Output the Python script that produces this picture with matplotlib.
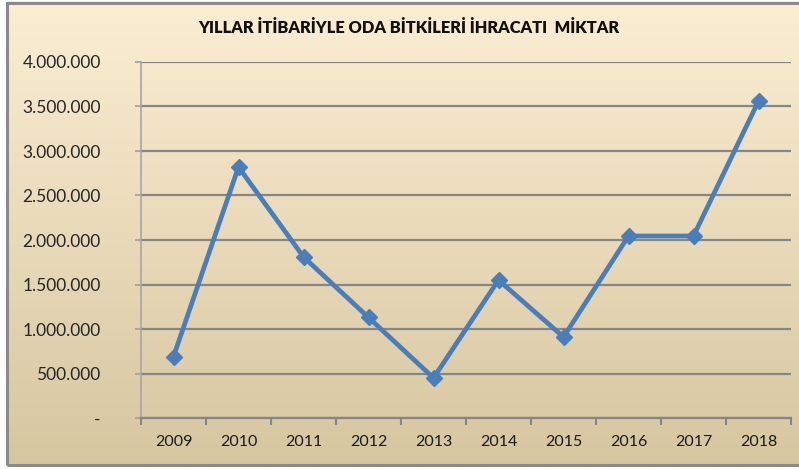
import numpy as np
import matplotlib
matplotlib.use("Agg")
import matplotlib.pyplot as plt
from matplotlib.ticker import FuncFormatter, FixedLocator

# data
years = ["2009", "2010", "2011", "2012", "2013", "2014", "2015", "2016", "2017", "2018"]
amounts = [690000, 2820000, 1810000, 1130000, 450000, 1550000, 910000, 2045000, 2045000, 3560000]
title = "YILLAR İTİBARİYLE ODA BİTKİLERİ İHRACATI  MİKTAR"

plt.rcParams['font.family'] = ['Lato', 'DejaVu Sans']

fig = plt.figure(figsize=(7.99, 4.69), dpi=100)

# gradient background inside the chart border
bg = fig.add_axes([7 / 799, 4 / 469, 1 - 7 / 799 + 0.01, 464 / 469], zorder=0)
top = np.array([252, 238, 211]) / 255
bottom = np.array([214, 198, 160]) / 255
t = np.linspace(0, 1, 256)[:, None]
grad = top * (1 - t[..., None]) + bottom * t[..., None]
bg.imshow(grad, aspect='auto', extent=[0, 1, 0, 1])
bg.set_xlim(0, 1)
bg.set_ylim(0, 1)
bg.axis('off')

# border
border = plt.Rectangle((7 / 799, 4 / 469), 1, 462 / 469, transform=fig.transFigure,
                       fill=False, edgecolor='#8a8a8a', linewidth=2.2, zorder=1)
fig.patches.append(border)

ax = fig.add_axes([141 / 799, 1 - 418 / 469, 650 / 799, 356 / 469], zorder=2)
ax.patch.set_alpha(0)

x = np.arange(len(years))
ax.plot(x, amounts, color='#4a7ebb', linewidth=3.4, marker='D', markersize=8,
        markerfacecolor='#4a7ebb', markeredgecolor='#4a7ebb', zorder=3)

ax.set_xlim(-0.5, len(years) - 0.5)
ax.set_ylim(0, 4000000)
ax.set_yticks(np.arange(0, 4000001, 500000))


def fmt(v, pos):
    if v == 0:
        return "-"
    return f"{int(v):,}".replace(",", ".")


ax.yaxis.set_major_formatter(FuncFormatter(fmt))
ax.grid(axis='y', color='#868686', linewidth=1.6)
ax.set_axisbelow(True)

# category boundary ticks, labels centred
ax.xaxis.set_major_locator(FixedLocator(np.arange(-0.5, len(years), 1.0)))
ax.xaxis.set_minor_locator(FixedLocator(x))
ax.set_xticklabels([])
ax.set_xticklabels(years, minor=True)
ax.tick_params(axis='x', which='major', length=5, width=1.5, color='#868686')
ax.tick_params(axis='x', which='minor', length=0, pad=12, labelsize=11.5,
               labelcolor='#1a1a1a')
ax.tick_params(axis='y', length=4, width=1.2, color='#a0a0a0', pad=25, labelsize=12.5,
               labelcolor='#262626')
for lbl in ax.get_yticklabels():
    lbl.set_horizontalalignment('right')

for s in ['top', 'right']:
    ax.spines[s].set_visible(False)
ax.spines['bottom'].set_color('#868686')
ax.spines['bottom'].set_linewidth(1.6)
ax.spines['left'].set_color('#a6a6a6')
ax.spines['left'].set_linewidth(1.2)

fig.text(409 / 799, 1 - 28 / 469, title, ha='center', va='center',
         fontsize=11.8, fontweight='heavy', color='#111111')

fig.savefig("out.png", dpi=100, facecolor='white')
